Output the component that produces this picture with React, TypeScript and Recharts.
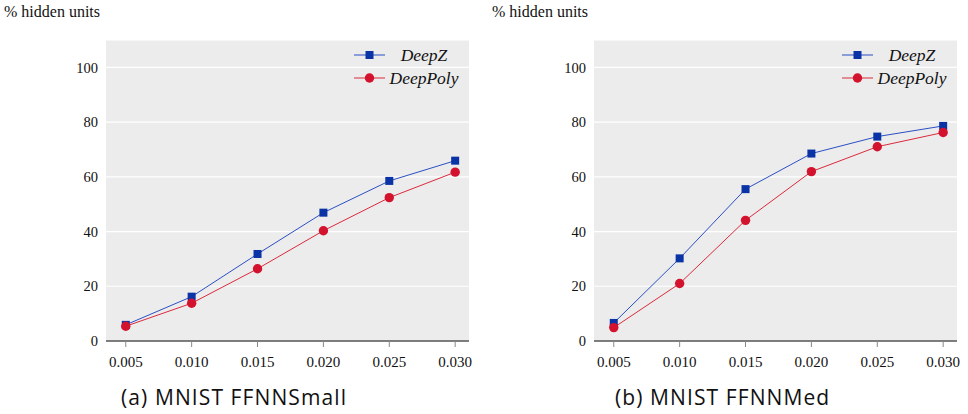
import React from "react"
import { LineChart, Line, XAxis, YAxis, CartesianGrid } from "recharts"

const epsilons = [0.005, 0.01, 0.015, 0.02, 0.025, 0.03]
const yTicks = [0, 20, 40, 60, 80, 100]

const smallDeepZ = [5.9, 16.2, 31.8, 46.9, 58.5, 65.9]
const smallDeepPoly = [5.4, 13.8, 26.4, 40.3, 52.4, 61.7]

const medDeepZ = [6.6, 30.2, 55.5, 68.5, 74.7, 78.6]
const medDeepPoly = [4.9, 21.0, 44.1, 61.9, 71.0, 76.2]

const BLUE = "#0a33a6"
const BLUE_LINE = "#2b4fc4"
const RED = "#d3122d"
const RED_LINE = "#db2a3c"
const SERIF = "'Liberation Serif', 'DejaVu Serif', serif"
const SANS = "'Open Sans', Lato, sans-serif"

const W = 480
const H = 414

const Square = (props: any) => {
	const { cx, cy, index } = props
	if (cx == null || cy == null) return <g key={index} />
	return <rect key={index} x={cx - 4} y={cy - 4} width={8} height={8} fill={BLUE} />
}

const Circle = (props: any) => {
	const { cx, cy, index } = props
	if (cx == null || cy == null) return <g key={index} />
	return <circle key={index} cx={cx} cy={cy} r={4.7} fill={RED} />
}

// pgfplots-style legend: line sample with marker, centered italic name
function LegendBox() {
	const rows = [
		{ name: "DeepZ", color: BLUE, line: BLUE_LINE, square: true },
		{ name: "DeepPoly", color: RED, line: RED_LINE, square: false },
	]
	return (
		<svg width={110} height={46} style={{ display: "block", overflow: "visible" }}>
			{rows.map((r, i) => {
				const y = 11 + i * 23
				return (
					<g key={r.name}>
						<line x1={0} x2={31} y1={y} y2={y} stroke={r.line} strokeWidth={1} />
						{r.square ? (
							<rect x={11.5} y={y - 4} width={8} height={8} fill={r.color} />
						) : (
							<circle cx={15.5} cy={y} r={4.7} fill={r.color} />
						)}
						<text
							x={70}
							y={y}
							dy="0.35em"
							textAnchor="middle"
							fontFamily={SERIF}
							fontStyle="italic"
							fontSize={17.5}
							fill="#111"
						>
							{r.name}
						</text>
					</g>
				)
			})}
		</svg>
	)
}

function Panel({
	deepZ,
	deepPoly,
	caption,
	captionLeft,
}: {
	deepZ: number[]
	deepPoly: number[]
	caption: string
	captionLeft: number
}) {
	const data = epsilons.map((eps, i) => ({ eps, deepZ: deepZ[i], deepPoly: deepPoly[i] }))
	return (
		<div style={{ position: "relative", width: W, height: H }}>
			<div
				style={{
					position: "absolute",
					left: 4,
					top: 3,
					fontFamily: SERIF,
					fontSize: 16,
					lineHeight: "18px",
					color: "#111",
					whiteSpace: "nowrap",
				}}
			>
				% hidden units
			</div>
			<LineChart width={W} height={H} data={data} margin={{ top: 40, right: 11, left: 0, bottom: 43 }}>
				<CartesianGrid vertical={false} stroke="#ffffff" strokeWidth={1.2} fill="#ececec" />
				<XAxis
					dataKey="eps"
					type="number"
					domain={[0.0035, 0.03105]}
					ticks={epsilons}
					allowDataOverflow
					tickFormatter={(v: number) => v.toFixed(3)}
					axisLine={{ stroke: "#000", strokeWidth: 1.2 }}
					tickLine={{ stroke: "#888" }}
					tickSize={6}
					tickMargin={9}
					height={30}
					tick={{ fill: "#111", fontSize: 15, fontFamily: SERIF }}
				/>
				<YAxis
					domain={[0, 110]}
					ticks={yTicks}
					width={106}
					axisLine={false}
					tickLine={false}
					tickSize={0}
					tickMargin={8}
					tick={{ fill: "#111", fontSize: 14.5, fontFamily: SERIF }}
				/>
				<Line
					dataKey="deepZ"
					name="DeepZ"
					stroke={BLUE_LINE}
					strokeWidth={1}
					dot={Square}
					activeDot={false}
					isAnimationActive={false}
				/>
				<Line
					dataKey="deepPoly"
					name="DeepPoly"
					stroke={RED_LINE}
					strokeWidth={1}
					dot={Circle}
					activeDot={false}
					isAnimationActive={false}
				/>
			</LineChart>
			<div style={{ position: "absolute", left: 354, top: 44 }}>
				<LegendBox />
			</div>
			<div
				style={{
					position: "absolute",
					left: captionLeft,
					top: 385,
					fontFamily: SANS,
					fontSize: 21,
					letterSpacing: 1.1,
					lineHeight: "24px",
					color: "#111",
					whiteSpace: "nowrap",
				}}
			>
				{caption}
			</div>
		</div>
	)
}

export default function App() {
	return (
		<div
			style={{
				position: "absolute",
				left: 0,
				top: 0,
				width: 968,
				height: 414,
				background: "#fff",
				display: "flex",
			}}
		>
			<div style={{ width: 488 }}>
				<Panel deepZ={smallDeepZ} deepPoly={smallDeepPoly} caption="(a) MNIST FFNNSmall" captionLeft={121} />
			</div>
			<div style={{ width: 480 }}>
				<Panel deepZ={medDeepZ} deepPoly={medDeepPoly} caption="(b) MNIST FFNNMed" captionLeft={127} />
			</div>
		</div>
	)
}
